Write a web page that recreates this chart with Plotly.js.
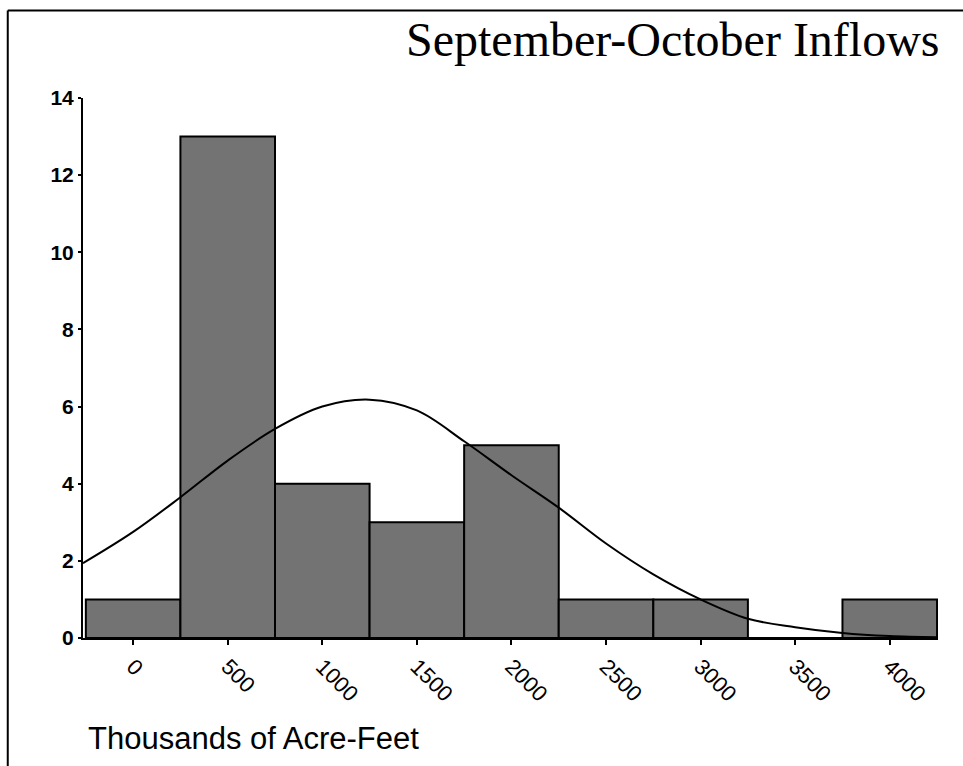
<!DOCTYPE html>
<html>
<head>
<meta charset="utf-8">
<script src="https://cdn.plot.ly/plotly-3.0.1.min.js"></script>
<style>html,body{margin:0;padding:0;background:#fff;}#chart{width:963px;height:766px;}</style>
</head>
<body>
<div id="chart"></div>
<script>
// Histogram bins (centers, thousands of acre-feet) and counts
const binCenters = [0, 500, 1000, 1500, 2000, 2500, 3000, 3500, 4000];
const binCounts  = [1, 13, 4, 3, 5, 1, 1, 0, 1];
// Fitted normal curve
const curveX = [-265, 0, 250, 500, 750, 1000, 1250, 1500, 1750, 2000, 2250, 2500, 2750, 3000, 3250, 3500, 3750, 4000, 4250];
const curveY = [1.94, 2.75, 3.65, 4.6, 5.42, 6.0, 6.18, 5.9, 5.1, 4.22, 3.38, 2.45, 1.65, 1.0, 0.5, 0.28, 0.13, 0.05, 0.02];
const xTicks = [0, 500, 1000, 1500, 2000, 2500, 3000, 3500, 4000];
const yTicks = [0, 2, 4, 6, 8, 10, 12, 14];

const traces = [
  {
    type: 'bar', x: binCenters, y: binCounts, width: 500,
    marker: {color: '#737373', line: {color: '#000', width: 2}},
    hoverinfo: 'skip'
  },
  {
    type: 'scatter', mode: 'lines', x: curveX, y: curveY,
    line: {color: '#000', width: 2, shape: 'spline'},
    hoverinfo: 'skip'
  }
];

const layout = {
  width: 963, height: 766,
  margin: {l: 83, r: 25, t: 98, b: 128},
  paper_bgcolor: '#fff', plot_bgcolor: '#fff',
  showlegend: false,
  bargap: 0,
  xaxis: {
    range: [-265, 4255], tickvals: xTicks, ticktext: xTicks.map(String),
    tickangle: 45, ticks: 'outside', ticklen: 5, tickwidth: 2, tickcolor: '#000',
    showline: true, linecolor: '#000', linewidth: 2, showgrid: false, zeroline: false,
    tickfont: {family: 'Liberation Sans, Arial, sans-serif', size: 22, color: '#000'}
  },
  yaxis: {
    range: [0, 14], tickvals: yTicks, ticktext: yTicks.map(String),
    ticks: 'outside', ticklen: 3, tickwidth: 2, tickcolor: '#000',
    showline: true, linecolor: '#000', linewidth: 2, showgrid: false, zeroline: false,
    tickfont: {family: 'Liberation Sans, Arial, sans-serif', size: 21, color: '#000', weight: 'bold'}
  },
  annotations: [
    {text: 'September-October Inflows', xref: 'paper', yref: 'paper', x: 1.005, y: 1.108,
     xanchor: 'right', yanchor: 'middle', showarrow: false,
     font: {family: 'Liberation Serif, Times New Roman, serif', size: 48, color: '#000'}},
    {text: 'Thousands of Acre-Feet', xref: 'paper', yref: 'paper', x: 0.003, y: -0.187,
     xanchor: 'left', yanchor: 'middle', showarrow: false,
     font: {family: 'Liberation Sans, Arial, sans-serif', size: 31, color: '#000'}}
  ],
  shapes: [
    {type: 'line', xref: 'paper', yref: 'paper', x0: -0.088, x1: 1.03, y0: 1.162, y1: 1.162,
     line: {color: '#000', width: 2}},
    {type: 'line', xref: 'paper', yref: 'paper', x0: -0.088, x1: -0.088, y0: 1.162, y1: -0.24,
     line: {color: '#000', width: 2}}
  ]
};

Plotly.newPlot('chart', traces, layout, {displayModeBar: false, staticPlot: true});
</script>
</body>
</html>
